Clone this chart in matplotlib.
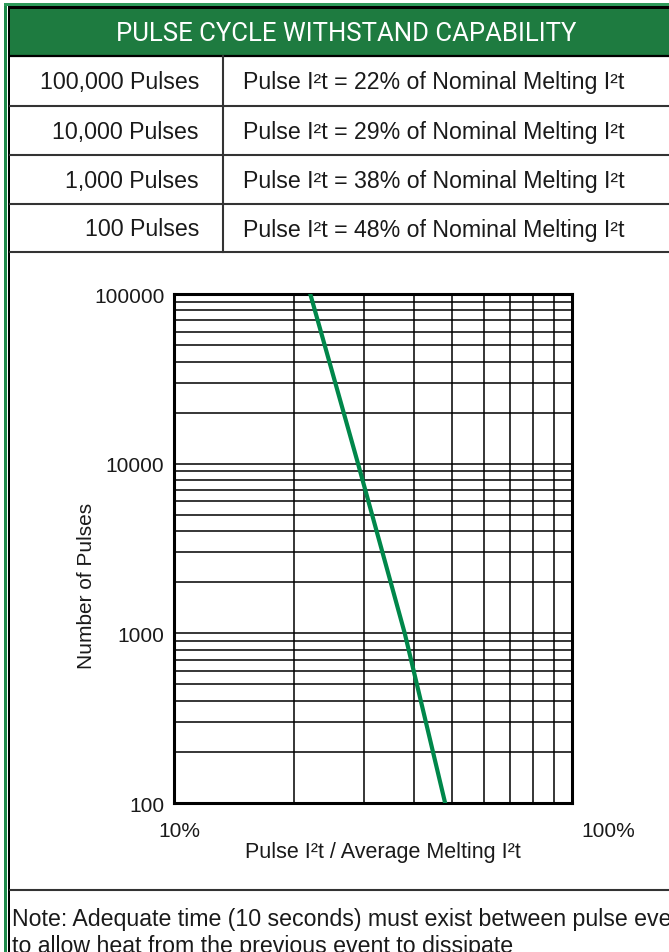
import matplotlib
matplotlib.use("Agg")
import matplotlib.pyplot as plt
import matplotlib.transforms as mtransforms
from matplotlib.patches import Rectangle
from matplotlib.ticker import FixedLocator, NullFormatter

# table data
pulse_labels = ["100,000 Pulses", "10,000 Pulses", "1,000 Pulses", "100 Pulses"]
pulse_pct = [22, 29, 38, 48]

# curve data (percent of melting I2t vs number of pulses)
curve_pct = [22, 29, 38, 48]
curve_pulses = [100000, 10000, 1000, 100]

y_ticks = [100, 1000, 10000, 100000]
y_ticklabels = ["100", "1000", "10000", "100000"]
x_ticks = [10, 100]
x_ticklabels = ["10%", "100%"]

title = "PULSE CYCLE WITHSTAND CAPABILITY"
note_lines = ["Note: Adequate time (10 seconds) must exist between pulse events",
              "to allow heat from the previous event to dissipate"]

W, H = 669, 953
GREEN = "#1E7B40"
LINE_GREEN = "#00874A"
TXT = "#1a1a1a"
BODY = ["Liberation Sans", "DejaVu Sans"]
HEAD = ["Roboto", "Liberation Sans", "DejaVu Sans"]

fig = plt.figure(figsize=(W / 100, H / 100), dpi=100)

# background canvas in pixel coordinates
bg = fig.add_axes([0, 0, 1, 1])
bg.set_xlim(0, W)
bg.set_ylim(H, 0)
bg.axis("off")

# outer frame
bg.add_patch(Rectangle((3.5, 4), 3.5, H, color="#1E8A4A", lw=0))
bg.add_patch(Rectangle((3.5, 4), W, 2.5, color="#2E9A5A", lw=0))
bg.add_patch(Rectangle((7.5, 7), 2.5, H, color="black", lw=0))
bg.add_patch(Rectangle((7.5, 7), W, 3, color="black", lw=0))

# header band
bg.add_patch(Rectangle((10, 10), W, 46, color=GREEN, lw=0))
bg.plot([10, W], [57, 57], color="black", lw=1.6)
bg.text(346, 34, title, color="white", fontsize=18.5, ha="center", va="center",
        family=HEAD)

# table rows
row_lines = [107, 156, 205, 253]
row_top = 57
for i, lab in enumerate(pulse_labels):
    yc = (row_top + row_lines[i]) / 2 + 1
    bg.text(199, yc, lab, fontsize=16.7, ha="right", va="center", family=BODY,
            color=TXT)
    bg.text(243, yc, f"Pulse I\u00b2t = {pulse_pct[i]}% of Nominal Melting I\u00b2t",
            fontsize=16.7, ha="left", va="center", family=BODY, color=TXT)
    bg.plot([10, W], [row_lines[i], row_lines[i]], color="#333333", lw=1.5)
    row_top = row_lines[i]
bg.plot([223, 223], [57, 253], color="#333333", lw=1.5)

# separator and note
bg.plot([10, W], [891, 891], color="#333333", lw=1.5)
bg.text(12, 920, note_lines[0], fontsize=16.7, ha="left", va="center", family=BODY,
        color=TXT)
bg.text(12, 947, note_lines[1], fontsize=16.7, ha="left", va="center", family=BODY,
        color=TXT)

# chart
ax = fig.add_axes([174 / W, 1 - 804 / H, 398 / W, 509 / H])
ax.set_xscale("log")
ax.set_yscale("log")
ax.set_xlim(10, 100)
ax.set_ylim(100, 100000)

ax.xaxis.set_minor_locator(FixedLocator([20, 30, 40, 50, 60, 70, 80, 90]))
ax.xaxis.set_minor_formatter(NullFormatter())
ax.yaxis.set_minor_formatter(NullFormatter())
ax.grid(True, which="both", color="black", lw=1.1)
ax.set_axisbelow(True)

ax.plot(curve_pct, curve_pulses, color=LINE_GREEN, lw=3, zorder=3)

ax.set_yticks(y_ticks)
ax.set_yticklabels(y_ticklabels, family=BODY, fontsize=15, color=TXT)
ax.set_xticks(x_ticks)
ax.set_xticklabels(x_ticklabels, family=BODY, fontsize=15, color=TXT)
ax.tick_params(which="both", length=0)
ax.tick_params(axis="y", pad=7)
ax.tick_params(axis="x", pad=13)

# nudge x tick labels like the original
shifts = [5, 36]
for lab, dx in zip(ax.get_xticklabels(), shifts):
    off = mtransforms.ScaledTranslation(dx / 100, 0, fig.dpi_scale_trans)
    lab.set_transform(lab.get_transform() + off)

for sp in ax.spines.values():
    sp.set_linewidth(2.2)
    sp.set_color("black")

bg.text(383, 853, "Pulse I\u00b2t / Average Melting I\u00b2t", fontsize=15.5,
        ha="center", va="center", family=BODY, color=TXT)
bg.text(87, 586, "Number of Pulses", fontsize=15, rotation=90, ha="center",
        va="center", family=BODY, color=TXT)

fig.savefig("out.png", dpi=100)
